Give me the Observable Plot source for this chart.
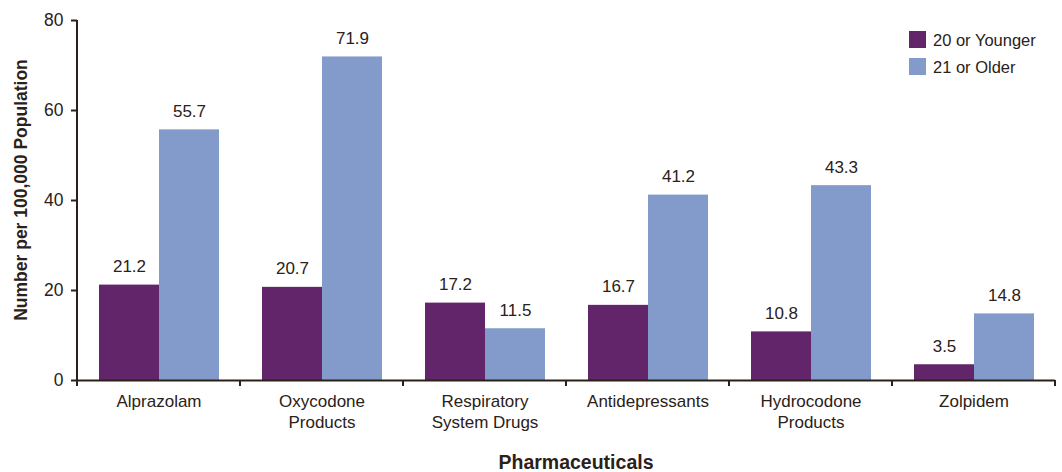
<!DOCTYPE html>
<html><head><meta charset="utf-8">
<script src="https://cdn.jsdelivr.net/npm/d3@7"></script>
<script src="https://cdn.jsdelivr.net/npm/@observablehq/plot@0.6"></script>
<style>body{margin:0;background:#fff} #chart{position:relative;width:1062px;height:472px}</style>
</head><body><div id="chart"></div>
<script>
const categories = ["Alprazolam","Oxycodone Products","Respiratory System Drugs","Antidepressants","Hydrocodone Products","Zolpidem"];
const tickLabels = ["Alprazolam","Oxycodone\nProducts","Respiratory\nSystem Drugs","Antidepressants","Hydrocodone\nProducts","Zolpidem"];
const series = ["20 or Younger","21 or Older"];
const younger = [21.2,20.7,17.2,16.7,10.8,3.5];
const older = [55.7,71.9,11.5,41.2,43.3,14.8];
const yTicks = [0,20,40,60,80];
const colors = ["#62256a","#839bca"];
const yTitle = "Number per 100,000 Population";
const xTitle = "Pharmaceuticals";

const data = categories.flatMap((c,i)=>[
  {cat:c, group:series[0], value:younger[i]},
  {cat:c, group:series[1], value:older[i]}
]);
const ink = "#2b2118";
const font = "'Liberation Sans', Arial, Helvetica, sans-serif";

const chart = Plot.plot({
  width:1062, height:472, marginLeft:75, marginRight:5, marginTop:20, marginBottom:92,
  style:{fontFamily:font, fontSize:"17px", color:ink, background:"#fff"},
  fx:{domain:categories, padding:0, label:null, axis:null},
  x:{domain:series, paddingInner:0, paddingOuter:0.353, axis:null},
  y:{domain:[0,80], axis:null},
  color:{domain:series, range:colors},
  marks:[
    Plot.barY(data,{fx:"cat", x:"group", y:"value", fill:"group"}),
    Plot.text(data,{fx:"cat", x:"group", y:"value", text:d=>d.value.toFixed(1), dy:-13, lineAnchor:"bottom", fill:ink, fontSize:17}),
    Plot.ruleY([0],{stroke:ink, strokeWidth:2}),
    Plot.axisY({ticks:yTicks, tickSize:6, tickPadding:8, strokeWidth:2, stroke:ink, label:null, fontSize:17.5}),
    Plot.axisFx({anchor:"bottom", tickSize:0, tickPadding:12, tickFormat:c=>tickLabels[categories.indexOf(c)], label:null, lineHeight:1.22, fontSize:17})
  ]
});
document.getElementById("chart").append(chart);

const svg = d3.select(chart.tagName.toLowerCase()==="svg" ? chart : chart.querySelector("svg"));
const fx = chart.scale("fx");
const y = chart.scale("y");
const y0 = y.apply(0), yTop = y.apply(80);
const x0 = fx.apply(categories[0]);
const g = svg.append("g");
// left axis line
g.append("line").attr("x1",x0).attr("x2",x0).attr("y1",yTop).attr("y2",y0+1)
  .attr("stroke",ink).attr("stroke-width",2);
// boundary ticks on x axis
const bounds = categories.map(c=>fx.apply(c)).concat([fx.apply(categories[categories.length-1]) + fx.step]);
bounds.forEach(b=>{
  g.append("line").attr("x1",b).attr("x2",b).attr("y1",y0).attr("y2",y0+6)
   .attr("stroke",ink).attr("stroke-width",2);
});
// axis titles
svg.append("text").attr("transform",`translate(21,${(y0+yTop)/2 - 10}) rotate(-90)`)
  .attr("text-anchor","middle").attr("dominant-baseline","central")
  .attr("font-family",font).attr("font-weight","bold").attr("font-size",17.5).attr("fill",ink).text(yTitle);
svg.append("text").attr("x",(fx.apply(categories[0]) + bounds[bounds.length-1])/2 + 10).attr("y",469)
  .attr("text-anchor","middle").attr("font-family",font).attr("font-weight","bold").attr("font-size",19.5).attr("fill",ink).text(xTitle);
// legend
const color = chart.scale("color");
series.forEach((s,i)=>{
  const ly = 31 + i*27;
  svg.append("rect").attr("x",909).attr("y",ly).attr("width",17).attr("height",17).attr("fill",color.apply(s));
  svg.append("text").attr("x",933).attr("y",ly+8.5).attr("dominant-baseline","central").attr("text-anchor","start")
    .attr("font-family",font).attr("font-size",16.5).attr("fill",ink).text(s);
});
</script>
</body></html>
